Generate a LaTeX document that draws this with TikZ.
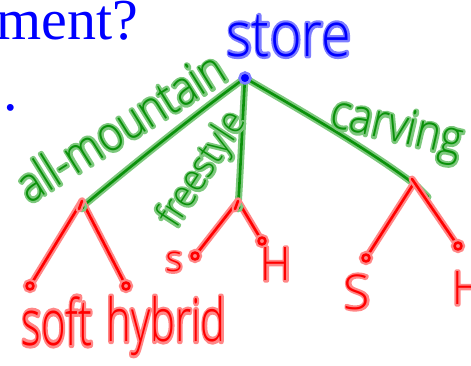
\documentclass[tikz,border=0pt]{standalone}
\usepackage{fontspec}
\setmainfont{Liberation Serif}
\newfontfamily\hand{Open Sans Light}
\definecolor{pgreen}{RGB}{10,145,10}
\definecolor{pgreenh}{RGB}{125,200,125}
\definecolor{pred}{RGB}{255,0,0}
\definecolor{predh}{RGB}{255,135,135}
\definecolor{pblue}{RGB}{0,0,255}
\definecolor{pblueh}{RGB}{125,125,255}
\newcommand{\halotext}[2]{\makebox[0pt][l]{\color{#1}\special{pdf:literal direct 2 Tr 4 w 1 j 1 J}#2\special{pdf:literal direct 0 Tr 0.4 w}}#2}
\tikzset{
  gpen/.style={draw=pgreen, line width=2.6pt, line cap=round, line join=round,
    preaction={draw=pgreenh, line width=7pt, line cap=round}},
  rpen/.style={draw=pred, line width=2.6pt, line cap=round, line join=round,
    preaction={draw=predh, line width=7pt, line cap=round}},
  gdot/.style={fill=pgreen, draw=pgreenh, line width=2.5pt},
  bdot/.style={fill=pblue, draw=pblueh, line width=2.5pt},
  gtext/.style={text=pgreen, inner sep=0, font=\hand\fontsize{42}{44}\selectfont},
  rtext/.style={text=pred, inner sep=0, font=\hand\fontsize{44}{46}\selectfont},
  btext/.style={text=pblue, inner sep=0, font=\hand\fontsize{54}{56}\selectfont},
}
\newcommand{\gh}[1]{\halotext{pgreenh}{#1}}
\newcommand{\rh}[1]{\halotext{predh}{#1}}
\newcommand{\bh}[1]{\halotext{pblueh}{#1}}
\begin{document}
\begin{tikzpicture}[x=1pt,y=-1pt]
\useasboundingbox (0,0) rectangle (471,366);
% serif title fragments
\node[anchor=base west, text=blue, inner sep=0, font=\fontsize{58}{60}\selectfont] (title) at (-4,40) {ment?};
\node[anchor=base, text=blue, inner sep=0, font=\fontsize{58}{60}\selectfont] (period) at (11,111) {.};
% tree points
\coordinate (R) at (245,78);
\coordinate (A) at (82,207);
\coordinate (F) at (238,207);
\coordinate (C) at (418,187);
\coordinate (A1) at (30,286);
\coordinate (A2) at (126,286);
\coordinate (F1) at (195,256);
\coordinate (F2) at (262,241);
\coordinate (C1) at (366,258);
\coordinate (C2) at (458,246);
% green branches
\draw[gpen] (R) .. controls (190,118) and (120,175) .. (A);
\draw[gpen] (R) .. controls (242,130) and (240,180) .. (F);
\draw[gpen] (R) .. controls (300,110) and (370,150) .. (C);
\draw[gpen] (C) -- (428,197);
% red branches
\draw[rpen] (A) ++(0,-6) coordinate (Ap) -- (A1);
\draw[rpen] (Ap) -- (A2);
\draw[rpen] (F) ++(0,-6) coordinate (Fp) -- (F1);
\draw[rpen] (Fp) -- (F2);
\draw[rpen] (C) ++(-4,-4) coordinate (Cp) -- (C1);
\draw[rpen] (C) ++(-6,-8) coordinate (Cq) -- (C2);
\foreach \p in {A1,A2,F1,F2,C1,C2} \draw[rpen] (\p) circle (3.5);
% node dots
\fill[gdot] (A) circle (4);
\fill[gdot] (F) circle (4);
\filldraw[bdot] (R) circle (5.5);
\draw[rpen] (Ap) -- ++(-3,8);
\draw[rpen] (Fp) -- ++(-3,8);
% labels
\node[btext, yscale=1.15] (store) at (289,36) {\bh{store}};
\node[gtext, rotate=32, yscale=1.15] (allm) at (120,126) {\gh{all-mountain}};
\node[gtext, rotate=57, font=\hand\fontsize{34}{36}\selectfont, yscale=1.1] (free) at (203,170) {\gh{freestyle}};
\node[gtext, rotate=-13, yscale=1.15] (carv) at (396,130) {\gh{carving}};
\node[rtext, yscale=1.45, xscale=0.95] (soft) at (57,321) {\rh{soft}};
\node[rtext, yscale=1.35, xscale=0.95] (hyb) at (166,326) {\rh{hybrid}};
\node[rtext, font=\hand\fontsize{36}{38}\selectfont] (s1) at (174,262) {\rh{s}};
\node[rtext, font=\hand\fontsize{42}{44}\selectfont, yscale=1.1] (h1) at (276,264) {\rh{H}};
\node[rtext, font=\hand\fontsize{48}{50}\selectfont] (s2) at (357,292) {\rh{S}};
\node[rtext, font=\hand\fontsize{42}{44}\selectfont, anchor=west, yscale=1.1] (h2) at (452,288) {\rh{H}};
\end{tikzpicture}
\end{document}
